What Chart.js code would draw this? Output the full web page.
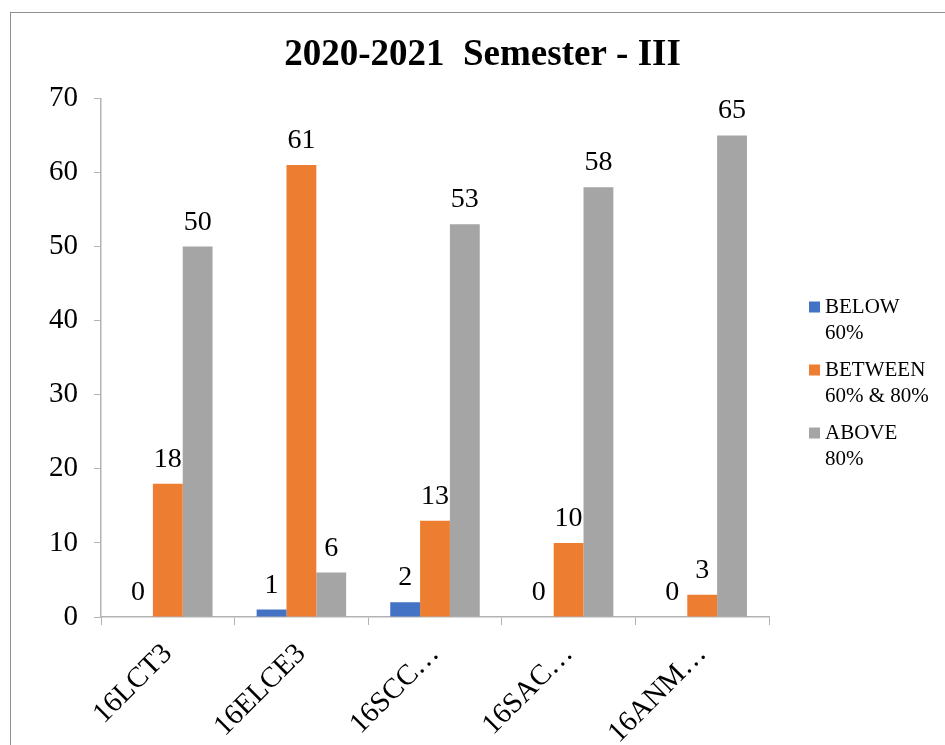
<!DOCTYPE html>
<html lang="en">
<head>
  <meta charset="UTF-8">
  <title>2020-2021 Semester - III</title>
  <script src="https://cdn.jsdelivr.net/npm/chart.js"></script>
  <style>
    html, body {
      margin: 0;
      padding: 0;
      background: #ffffff;
      overflow: hidden;
    }
    .frame {
      position: absolute;
      left: 10px;
      top: 12px;
      width: 1000px;
      height: 800px;
      border: 1px solid #8f8f8f;
    }
    #chart {
      position: absolute;
      left: 0;
      top: 0;
    }
  </style>
</head>
<body>
  <div class="frame"></div>
  <canvas id="chart" width="945" height="745"></canvas>

  <script>
    const serif = "'Liberation Serif', 'Times New Roman', serif";

    const categories = ['16LCT3', '16ELCE3', '16SCC\u2026', '16SAC\u2026', '16ANM\u2026'];
    const below60 = [0, 1, 2, 0, 0];
    const between60and80 = [18, 61, 13, 10, 3];
    const above80 = [50, 6, 53, 58, 65];
    const seriesLabels = [['BELOW', '60%'], ['BETWEEN', '60% & 80%'], ['ABOVE', '80%']];
    const seriesColors = ['#4472C4', '#ED7D31', '#A5A5A5'];
    const yTicks = [0, 10, 20, 30, 40, 50, 60, 70];

    // value above every bar
    const valueLabels = {
      id: 'valueLabels',
      afterDatasetsDraw(chart) {
        const ctx = chart.ctx;
        ctx.save();
        ctx.font = '28px ' + serif;
        ctx.fillStyle = '#000';
        ctx.textAlign = 'center';
        ctx.textBaseline = 'alphabetic';
        chart.data.datasets.forEach((ds, i) => {
          chart.getDatasetMeta(i).data.forEach((bar, j) => {
            ctx.fillText(String(ds.data[j]), bar.x, bar.y - 17);
          });
        });
        ctx.restore();
      }
    };

    // legend on the right, labels on two lines
    const sideLegend = {
      id: 'sideLegend',
      afterDraw(chart) {
        const ctx = chart.ctx;
        const rows = [307, 370, 433];
        ctx.save();
        ctx.font = '21px ' + serif;
        ctx.textAlign = 'left';
        ctx.textBaseline = 'middle';
        seriesLabels.forEach((lines, i) => {
          ctx.fillStyle = seriesColors[i];
          ctx.fillRect(809, rows[i] - 5.5, 11, 11);
          ctx.fillStyle = '#000';
          lines.forEach((line, k) => {
            ctx.fillText(line, 825, rows[i] + k * 26);
          });
        });
        ctx.restore();
      }
    };

    const axisColor = '#b3b3b3';

    new Chart(document.getElementById('chart'), {
      type: 'bar',
      data: {
        labels: categories,
        datasets: [
          { label: seriesLabels[0].join(' '), data: below60, backgroundColor: seriesColors[0] },
          { label: seriesLabels[1].join(' '), data: between60and80, backgroundColor: seriesColors[1] },
          { label: seriesLabels[2].join(' '), data: above80, backgroundColor: seriesColors[2] }
        ]
      },
      options: {
        responsive: false,
        animation: false,
        devicePixelRatio: 1,
        categoryPercentage: 0.67,
        barPercentage: 1,
        layout: { padding: { left: 20, right: 0, top: 0, bottom: 0 } },
        plugins: {
          legend: { display: false },
          tooltip: { enabled: false },
          title: {
            display: true,
            text: '2020-2021  Semester - III',
            color: '#000',
            font: { family: serif, size: 37, weight: 'bold', lineHeight: 1.2 },
            padding: { top: 33, bottom: 21 }
          }
        },
        scales: {
          x: {
            grid: { display: true, drawOnChartArea: false, drawTicks: true, tickLength: 8, color: axisColor, offset: true },
            border: { display: true, color: axisColor, width: 1.5 },
            ticks: {
              color: '#000',
              font: { family: serif, size: 29 },
              minRotation: 45,
              maxRotation: 45,
              padding: 12,
              autoSkip: false
            },
            afterFit(scale) { scale.height = 128; }
          },
          y: {
            min: 0,
            max: 70,
            afterBuildTicks(scale) { scale.ticks = yTicks.map(v => ({ value: v })); },
            grid: { display: true, drawOnChartArea: false, drawTicks: true, tickLength: 7, color: axisColor },
            border: { display: true, color: axisColor, width: 1.5 },
            ticks: { color: '#000', font: { family: serif, size: 29 }, padding: 16 },
            afterFit(scale) { scale.width = 81; }
          },
          legendSpace: {
            position: 'right',
            display: true,
            grid: { display: false },
            border: { display: false },
            ticks: { display: false },
            afterFit(scale) { scale.width = 176; }
          }
        }
      },
      plugins: [valueLabels, sideLegend]
    });
  </script>
</body>
</html>
